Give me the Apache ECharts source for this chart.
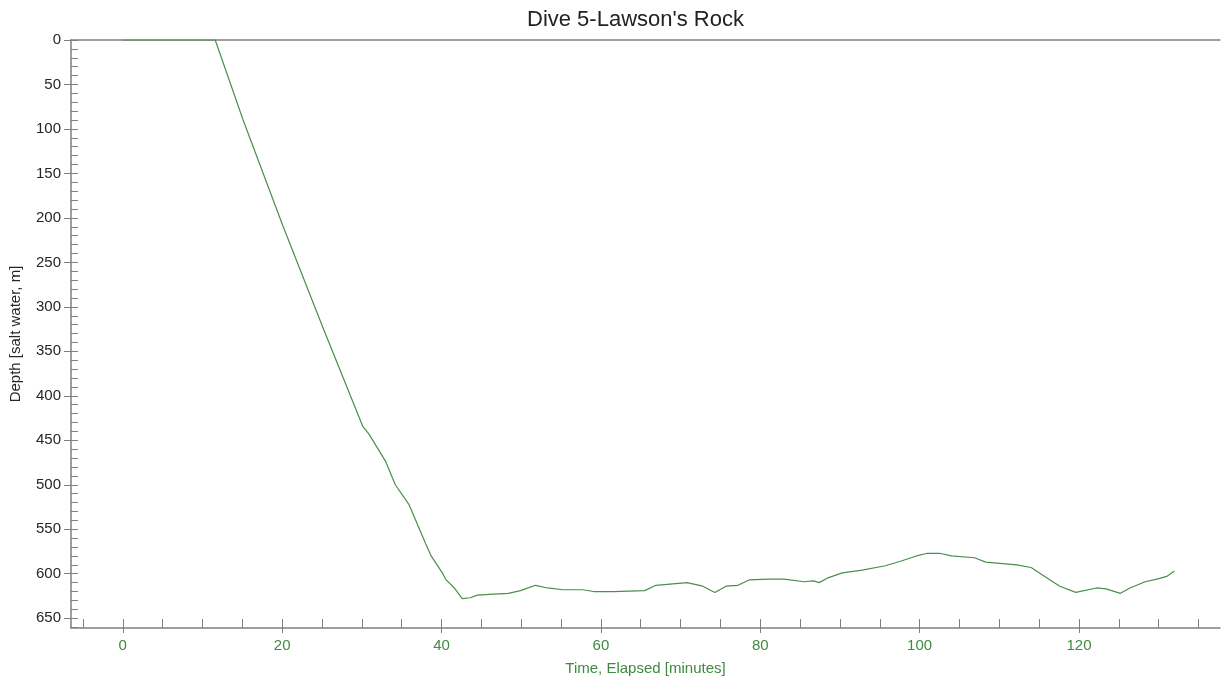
<!DOCTYPE html>
<html>
<head>
<meta charset="utf-8">
<title>Dive 5-Lawson's Rock</title>
<script src="https://cdn.jsdelivr.net/npm/echarts@6/dist/echarts.min.js"></script>
<style>
  html, body { margin: 0; padding: 0; background: #fff; }
  #chart { width: 1222px; height: 681px; }
</style>
</head>
<body>
<div id="chart"></div>
<script>
// elapsed time [minutes] and depth [m]
var timeMin = [0, 11.6, 15.1, 20.1, 25.1, 30.1, 30.9, 33.0, 34.2, 35.9, 38.0, 38.7, 40.1, 40.5, 41.6,
  42.6, 43.6, 44.5, 46.5, 48.4, 49.9, 51.8, 53.3, 55.2, 57.7, 59.1, 61.5, 65.5, 66.9, 70.8, 72.8,
  74.3, 75.7, 77.2, 78.6, 81.1, 83.0, 85.5, 86.7, 87.4, 88.4, 90.3, 92.8, 95.7, 97.6, 99.6, 101.0,
  102.5, 104.0, 106.9, 108.3, 112.2, 114.0, 115.7, 117.6, 119.6, 122.2, 123.4, 125.2, 126.4, 128.3,
  129.8, 131.0, 132.0];
var depthM = [0, 0, 90, 209, 323, 434, 443, 474, 500, 522, 566, 580, 599, 606, 616,
  628, 627, 624, 623, 622, 619, 613, 616, 618, 618, 620, 620, 619, 613, 610, 614,
  621, 614, 613, 607, 606, 606, 609, 608, 610, 605, 599, 596, 591, 586, 580, 577,
  577, 580, 582, 587, 590, 593, 603, 614, 621, 616, 617, 622, 616, 609,
  606, 603, 597];

var xMajorTicks = [0, 20, 40, 60, 80, 100, 120];
var xMinorTicks = [-5, 0, 5, 10, 15, 20, 25, 30, 35, 40, 45, 50, 55, 60, 65, 70, 75, 80, 85, 90,
  95, 100, 105, 110, 115, 120, 125, 130, 135];
var yMajorTicks = [0, 50, 100, 150, 200, 250, 300, 350, 400, 450, 500, 550, 600, 650];
var yMinorTicks = [];
for (var v = 0; v <= 660; v += 10) yMinorTicks.push(v);

var axisGray = '#7f7f7f';
var green = '#3f8a3f';
var X_MIN = -6.5, X_MAX = 137.7, Y_MAX = 661;

var points = timeMin.map(function (t, i) { return [t, depthM[i]]; });

var chart = echarts.init(document.getElementById('chart'));
chart.setOption({
  animation: false,
  backgroundColor: '#fff',
  title: {
    text: "Dive 5-Lawson's Rock",
    left: 522,
    top: 4,
    textStyle: { fontFamily: 'Liberation Sans, Arial', fontSize: 22, fontWeight: 'normal', color: '#222' }
  },
  grid: { left: 67, right: 2, top: 40, bottom: 49 },
  xAxis: [{
    type: 'value', position: 'bottom', min: X_MIN, max: X_MAX,
    splitLine: { show: false },
    axisLine: { onZero: false, lineStyle: { color: axisGray, width: 1.5 } },
    axisTick: { customValues: xMajorTicks, inside: false, length: 5, lineStyle: { color: axisGray } },
    axisLabel: { customValues: xMajorTicks, color: green, fontSize: 15, margin: 10,
      fontFamily: 'Liberation Sans, Arial' },
    name: 'Time, Elapsed [minutes]', nameLocation: 'middle', nameGap: 33,
    nameTextStyle: { color: green, fontSize: 15, fontFamily: 'Liberation Sans, Arial' }
  }, {
    type: 'value', position: 'bottom', min: X_MIN, max: X_MAX,
    splitLine: { show: false },
    axisLine: { show: false, onZero: false },
    axisTick: { customValues: xMinorTicks, inside: true, length: 9, lineStyle: { color: axisGray } },
    axisLabel: { show: false }
  }, {
    type: 'value', position: 'top', min: X_MIN, max: X_MAX,
    splitLine: { show: false },
    axisLine: { onZero: false, lineStyle: { color: axisGray, width: 1.5 } },
    axisTick: { show: false },
    axisLabel: { show: false }
  }],
  yAxis: [{
    type: 'value', position: 'left', inverse: true, min: 0, max: Y_MAX,
    splitLine: { show: false },
    axisLine: { show: true, onZero: false, lineStyle: { color: axisGray, width: 1.5 } },
    axisTick: { show: true, customValues: yMajorTicks, inside: false, length: 7, lineStyle: { color: axisGray } },
    axisLabel: { customValues: yMajorTicks, color: '#262626', fontSize: 15, margin: 10,
      fontFamily: 'Liberation Sans, Arial' },
    name: 'Depth [salt water, m]', nameLocation: 'middle', nameGap: 48, nameRotate: 90,
    nameTextStyle: { color: '#262626', fontSize: 15, fontFamily: 'Liberation Sans, Arial' }
  }, {
    type: 'value', position: 'left', inverse: true, min: 0, max: Y_MAX,
    splitLine: { show: false },
    axisLine: { show: false, onZero: false },
    axisTick: { show: true, customValues: yMinorTicks, inside: true, length: 7, lineStyle: { color: axisGray } },
    axisLabel: { show: false }
  }],
  series: [{
    name: 'Depth',
    type: 'line',
    xAxisIndex: 0,
    yAxisIndex: 0,
    data: points,
    showSymbol: false,
    lineStyle: { color: '#4a8f4a', width: 1.2 }
  }]
});
</script>
</body>
</html>
